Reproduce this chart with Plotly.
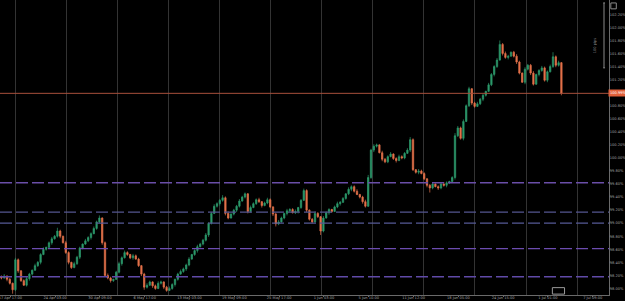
import plotly.graph_objects as go

# ---- data (percent values) ----
closes = [
    98.16, 98.19, 98.14, 98.08, 97.98, 98.44, 98.27, 98.12, 98.05, 98.15,
    98.22, 98.28, 98.35, 98.40, 98.52, 98.60, 98.63, 98.70, 98.76, 98.80,
    98.88, 98.80, 98.70, 98.55, 98.40, 98.32, 98.38, 98.48, 98.62, 98.68,
    98.73, 98.78, 98.84, 98.92, 99.02, 99.08, 98.70, 98.20, 98.16, 98.12,
    98.14, 98.25, 98.38, 98.47, 98.55, 98.52, 98.47, 98.50, 98.45, 98.35,
    98.22, 98.02, 98.05, 98.10, 98.04, 98.00, 98.08, 98.10, 98.02, 97.97,
    98.00, 98.06, 98.14, 98.22, 98.26, 98.30, 98.36, 98.45, 98.52, 98.58,
    98.64, 98.68, 98.74, 98.82, 99.00, 99.15, 99.26, 99.30, 99.35, 99.39,
    99.15, 99.08, 99.14, 99.20, 99.26, 99.34, 99.40, 99.45, 99.18, 99.24,
    99.30, 99.36, 99.33, 99.27, 99.31, 99.36, 99.25, 99.14, 98.99, 99.02,
    99.08, 99.15, 99.19, 99.21, 99.16, 99.18, 99.24, 99.35, 99.50, 99.20,
    99.06, 99.02, 99.15, 99.10, 98.88, 99.08, 99.16, 99.21, 99.18, 99.25,
    99.30, 99.32, 99.38, 99.45, 99.52, 99.56, 99.49, 99.44, 99.40, 99.33,
    99.26, 99.70, 100.12, 100.18, 100.20, 100.08, 99.98, 99.94, 100.02, 100.06,
    99.99, 99.96, 100.02, 100.00, 100.07, 100.12, 100.28, 99.82, 99.78, 99.80,
    99.76, 99.68, 99.58, 99.54, 99.60, 99.56, 99.54, 99.60, 99.58, 99.62,
    99.64, 99.70, 100.34, 100.46, 100.30, 100.56, 100.80, 101.06, 100.84, 100.79,
    100.83, 100.90, 100.96, 101.02, 101.12, 101.28, 101.40, 101.50, 101.74, 101.60,
    101.54, 101.56, 101.62, 101.56, 101.47, 101.30, 101.16, 101.36, 101.42, 101.30,
    101.13, 101.28, 101.34, 101.38, 101.19, 101.32, 101.40, 101.55, 101.42, 101.46,
    100.99,
]
first_open = 98.18
# wick sizes in hundredths of a percent
upper_wick = [
    2, 3, 1, 2, 1, 3, 2, 1, 2, 3, 2, 1, 3, 2, 2, 3, 1, 2, 3, 2,
    5, 2, 1, 3, 2, 1, 3, 2, 2, 1, 3, 2, 2, 3, 2, 4, 1, 2, 3, 2,
    1, 2, 3, 2, 3, 2, 1, 3, 2, 2, 1, 2, 3, 2, 1, 2, 3, 2, 1, 2,
    3, 2, 1, 2, 3, 2, 2, 3, 1, 2, 3, 2, 2, 3, 1, 2, 3, 2, 2, 4,
    2, 3, 1, 2, 2, 3, 2, 2, 1, 3, 2, 2, 3, 1, 2, 3, 2, 1, 2, 3,
    2, 1, 3, 2, 2, 3, 1, 2, 3, 2, 1, 2, 3, 2, 1, 3, 2, 2, 1, 2,
    3, 2, 2, 1, 3, 2, 2, 3, 1, 2, 3, 4, 2, 3, 2, 1, 3, 2, 2, 3,
    1, 2, 3, 2, 2, 3, 4, 2, 1, 3, 2, 2, 1, 2, 3, 1, 2, 2, 3, 2,
    1, 2, 4, 3, 2, 3, 2, 3, 1, 2, 3, 2, 2, 1, 3, 2, 2, 3, 6, 2,
    3, 2, 1, 2, 3, 2, 1, 3, 2, 2, 3, 1, 2, 3, 2, 2, 3, 7, 2, 3,
    1,
]
lower_wick = [
    2, 1, 3, 2, 6, 2, 3, 2, 1, 2, 3, 2, 1, 2, 3, 1, 2, 2, 3, 1,
    2, 3, 1, 2, 3, 2, 1, 2, 3, 2, 1, 2, 3, 1, 2, 2, 3, 2, 2, 3,
    2, 1, 2, 3, 1, 2, 2, 3, 1, 2, 3, 4, 2, 1, 3, 2, 1, 2, 3, 2,
    1, 2, 3, 2, 1, 2, 3, 2, 1, 2, 3, 1, 2, 2, 3, 2, 1, 2, 3, 2,
    3, 2, 1, 2, 3, 2, 1, 2, 3, 2, 1, 2, 2, 3, 1, 2, 2, 3, 4, 2,
    1, 2, 3, 2, 1, 2, 3, 2, 1, 3, 2, 2, 1, 2, 6, 2, 1, 3, 2, 1,
    2, 3, 1, 2, 2, 3, 2, 1, 2, 3, 2, 1, 2, 3, 2, 1, 3, 2, 2, 1,
    2, 3, 1, 2, 2, 1, 3, 2, 2, 3, 1, 2, 3, 7, 2, 1, 3, 2, 2, 3,
    2, 1, 3, 2, 2, 3, 1, 2, 3, 2, 1, 2, 3, 2, 1, 2, 3, 2, 1, 3,
    2, 3, 1, 2, 3, 2, 1, 3, 2, 3, 2, 1, 3, 2, 2, 3, 1, 2, 3, 2,
    3,
]
x_tick_pos = [3.2, 19.2, 35.2, 51.2, 67.2, 83.2, 99.2, 115.2, 131.2, 147.2,
              163.2, 179.2, 195.2, 211.2]
x_tick_labels = ["17 Apr 17:00", "24 Apr 03:00", "30 Apr 09:00", "6 May 17:00",
                 "13 May 03:00", "19 May 09:00", "25 May 17:00", "1 Jun 03:00",
                 "5 Jun 10:00", "11 Jun 12:00", "18 Jun 05:00", "24 Jun 15:00",
                 "1 Jul 01:00", "7 Jul 09:00"]
y_tick_vals = [98.0, 98.2, 98.4, 98.6, 98.8, 99.0, 99.2, 99.4, 99.6, 99.8, 100.0,
               100.2, 100.4, 100.6, 100.8, 101.0, 101.2, 101.4, 101.6, 101.8, 102.0, 102.2]
levels = [99.62, 99.17, 99.00, 98.61, 98.18]
level_colors = ["#6a4ea8", "#545690", "#565a96", "#6c4cb0", "#604aa8"]
current_price = 100.99

# ---- build OHLC ----
opens = [first_open] + closes[:-1]
highs = [max(o, c) + u / 100 for o, c, u in zip(opens, closes, upper_wick)]
lows = [min(o, c) - l / 100 for o, c, l in zip(opens, closes, lower_wick)]
idx = list(range(len(closes)))

fig = go.Figure()
fig.add_trace(go.Candlestick(
    x=idx, open=opens, high=highs, low=lows, close=closes,
    increasing=dict(line=dict(color="#2c9a6c", width=0.7), fillcolor="#2c9a6c"),
    decreasing=dict(line=dict(color="#e4714a", width=0.7), fillcolor="#e4714a"),
    whiskerwidth=0, showlegend=False, hoverinfo="skip",
))
# dummy trace on second x-axis for vertical grid
fig.add_trace(go.Scatter(x=[None], y=[None], xaxis="x2", showlegend=False))

xr = [-0.5, 217.0]
yr = [97.90, 102.42]

shapes = []
for lv, col in zip(levels, level_colors):
    shapes.append(dict(type="line", xref="paper", yref="y", x0=0, x1=1, y0=lv, y1=lv,
                       line=dict(color=col, width=1.3, dash="12px,4px")))
shapes.append(dict(type="line", xref="paper", yref="y", x0=0, x1=1,
                   y0=current_price, y1=current_price,
                   line=dict(color="#a8503c", width=1)))
# ruler bracket and icons
shapes.append(dict(type="line", xref="paper", yref="paper", x0=0.9918, x1=0.9918,
                   y0=0.99, y1=0.77, line=dict(color="#8a8a8a", width=1)))
shapes.append(dict(type="line", xref="paper", yref="paper", x0=0.9905, x1=0.9935,
                   y0=0.99, y1=0.99, line=dict(color="#8a8a8a", width=1)))
shapes.append(dict(type="line", xref="paper", yref="paper", x0=0.9905, x1=0.9935,
                   y0=0.77, y1=0.77, line=dict(color="#8a8a8a", width=1)))
shapes.append(dict(type="rect", xref="paper", yref="paper", x0=1.003, x1=1.012,
                   y0=0.97, y1=0.99, line=dict(color="#8a8a8a", width=1)))
shapes.append(dict(type="rect", xref="paper", yref="paper", x0=0.907, x1=0.927,
                   y0=0.003, y1=0.025, line=dict(color="#9a9a9a", width=1)))

fig.update_layout(
    width=625, height=301,
    margin=dict(l=0, r=16, t=0, b=6, autoexpand=False),
    paper_bgcolor="#000000", plot_bgcolor="#000000",
    font=dict(family="DejaVu Sans", size=3.6, color="#a0a0a0"),
    xaxis=dict(range=xr, tickmode="array", tickvals=x_tick_pos, ticktext=x_tick_labels,
               showgrid=False, zeroline=False, showline=True, linecolor="#6a6a6a",
               linewidth=1, ticks="outside", ticklen=1, tickcolor="#6a6a6a",
               ticklabelstandoff=-2,
               ticklabeloverflow="allow", automargin=False,
               tickfont=dict(size=3.6, color="#a0a0a0"), rangeslider=dict(visible=False),
               fixedrange=True),
    xaxis2=dict(range=xr, overlaying="x", tick0=4.86, dtick=18.25, showgrid=True,
                gridcolor="#333333", gridwidth=1, showticklabels=False, zeroline=False,
                ticks="", automargin=False),
    yaxis=dict(range=yr, side="right", tickmode="array", tickvals=y_tick_vals,
               ticktext=[f"{v:.2f}%" for v in y_tick_vals], showgrid=False,
               zeroline=False, showline=True, linecolor="#6a6a6a", linewidth=1,
               ticks="", ticklabelstandoff=-1,
               ticklabeloverflow="allow", automargin=False,
               tickfont=dict(size=3.6, color="#a0a0a0")),
    shapes=shapes,
    annotations=[
        dict(x=1.0, xref="paper", y=current_price, yref="y", xanchor="left",
             text=f"{current_price:.2f}%", showarrow=False, xshift=-1,
             bgcolor="#e0603a", font=dict(size=3.6, color="#ffffff"), borderpad=1),
        dict(x=0.985, xref="paper", y=0.88, yref="paper", text="100 pips",
             textangle=-90, showarrow=False, font=dict(size=3.6, color="#8a8a8a")),
    ],
)

fig.write_html("out.html")
